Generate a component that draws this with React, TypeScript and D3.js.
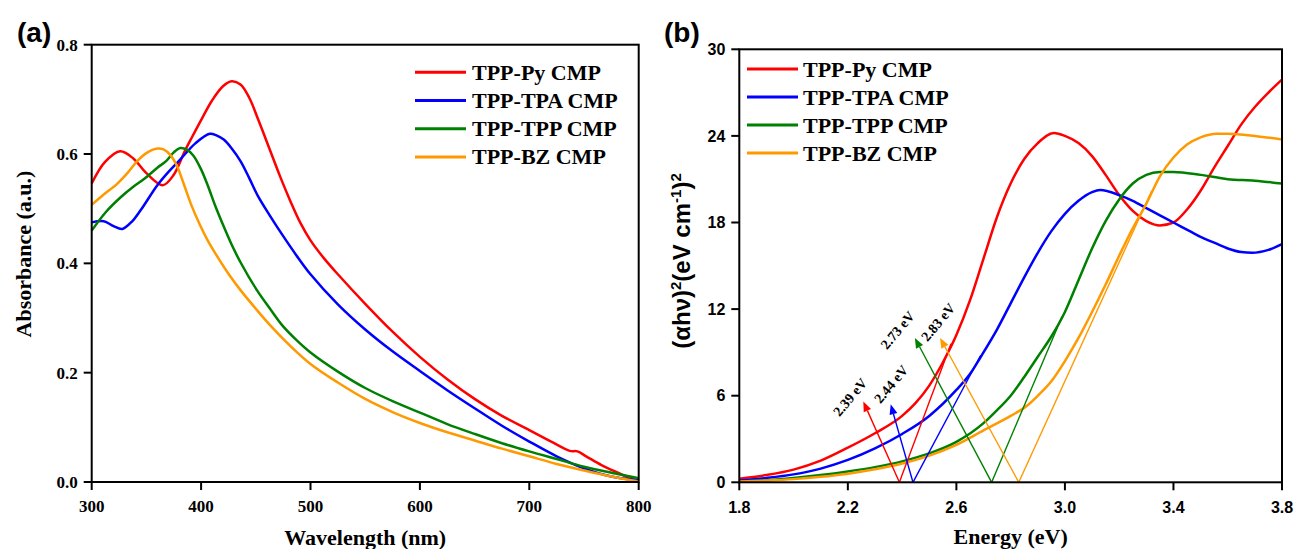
import React from "react";
import * as d3 from "d3";

// ---------- Panel (a): UV-vis absorbance ----------
const wlTicks = [300, 400, 500, 600, 700, 800];
const absTicks = [0, 0.2, 0.4, 0.6, 0.8];

const pyAbs: [number, number][] = [
  [300, 0.546], [312, 0.585], [326, 0.605], [338, 0.592], [350, 0.565], [365, 0.543],
  [375, 0.562], [385, 0.605], [392, 0.632], [400, 0.662], [410, 0.698], [420, 0.724],
  [428, 0.733], [436, 0.727], [444, 0.703], [452, 0.664], [463, 0.607], [472, 0.56],
  [482, 0.512], [491, 0.473], [500, 0.442], [512, 0.41], [525, 0.38], [550, 0.326],
  [575, 0.275], [600, 0.229], [625, 0.188], [650, 0.152], [675, 0.121], [700, 0.095],
  [720, 0.074], [737, 0.057], [744, 0.056], [752, 0.047], [766, 0.031], [782, 0.016],
  [800, 0.0],
];
const tpaAbs: [number, number][] = [
  [300, 0.475], [311, 0.477], [320, 0.468], [328, 0.463], [337, 0.477], [345, 0.498],
  [360, 0.543], [370, 0.567], [380, 0.588], [395, 0.62], [408, 0.637], [414, 0.634],
  [421, 0.626], [428, 0.61], [436, 0.587], [444, 0.556], [452, 0.523], [463, 0.487],
  [474, 0.453], [487, 0.415], [500, 0.38], [525, 0.325], [550, 0.279], [575, 0.239],
  [600, 0.203], [625, 0.168], [650, 0.135], [675, 0.103], [700, 0.074], [725, 0.047],
  [750, 0.025], [775, 0.01], [800, 0.003],
];
const tppAbs: [number, number][] = [
  [300, 0.46], [313, 0.494], [326, 0.52], [338, 0.54], [349, 0.556], [360, 0.575],
  [368, 0.587], [375, 0.603], [381, 0.611], [387, 0.608], [393, 0.597], [400, 0.572],
  [406, 0.543], [413, 0.505], [421, 0.466], [428, 0.434], [436, 0.402], [451, 0.351],
  [463, 0.317], [474, 0.287], [487, 0.26], [500, 0.237], [525, 0.202], [550, 0.172],
  [575, 0.148], [600, 0.127], [625, 0.106], [650, 0.088], [675, 0.071], [700, 0.056],
  [725, 0.042], [750, 0.028], [775, 0.017], [800, 0.007],
];
const bzAbs: [number, number][] = [
  [300, 0.507], [311, 0.526], [323, 0.545], [333, 0.566], [342, 0.588], [351, 0.603],
  [360, 0.61], [366, 0.608], [372, 0.598], [378, 0.578], [384, 0.546], [391, 0.507],
  [399, 0.47], [406, 0.442], [414, 0.415], [425, 0.381], [436, 0.351], [450, 0.317],
  [463, 0.287], [481, 0.25], [500, 0.216], [525, 0.182], [550, 0.152], [575, 0.128],
  [600, 0.108], [625, 0.091], [650, 0.076], [675, 0.061], [700, 0.047], [725, 0.033],
  [750, 0.021], [775, 0.01], [800, 0.001],
];

// ---------- Panel (b): Tauc plot ----------
const eTicks = [1.8, 2.2, 2.6, 3.0, 3.4, 3.8];
const taucTicks = [0, 6, 12, 18, 24, 30];

const pyTauc: [number, number][] = [
  [1.8, 0.25], [1.9, 0.5], [2.0, 0.88], [2.1, 1.5], [2.2, 2.4], [2.3, 3.4], [2.4, 4.6],
  [2.45, 5.5], [2.5, 6.7], [2.55, 8.3], [2.6, 10.2], [2.65, 12.6], [2.7, 15.5],
  [2.75, 18.4], [2.8, 20.7], [2.85, 22.4], [2.9, 23.5], [2.96, 24.2], [3.0, 24.0],
  [3.05, 23.5], [3.1, 22.6], [3.15, 21.3], [3.2, 19.9], [3.25, 18.8], [3.3, 18.1],
  [3.35, 17.8], [3.4, 18.0], [3.45, 18.9], [3.5, 20.2], [3.55, 21.8], [3.6, 23.3],
  [3.65, 24.8], [3.7, 26.0], [3.75, 27.0], [3.8, 27.9],
];
const tpaTauc: [number, number][] = [
  [1.8, 0.12], [1.9, 0.3], [2.0, 0.55], [2.1, 0.95], [2.2, 1.55], [2.3, 2.35], [2.4, 3.35],
  [2.5, 4.6], [2.6, 6.4], [2.65, 7.5], [2.69, 8.7], [2.75, 10.6], [2.8, 12.4],
  [2.85, 14.2], [2.9, 15.9], [2.95, 17.4], [3.0, 18.6], [3.05, 19.5], [3.1, 20.1],
  [3.13, 20.25], [3.2, 19.9], [3.25, 19.5], [3.3, 19.0], [3.35, 18.5], [3.4, 18.0],
  [3.46, 17.4], [3.5, 17.0], [3.55, 16.6], [3.6, 16.2], [3.65, 15.95], [3.69, 15.9],
  [3.75, 16.1], [3.8, 16.5],
];
const tppTauc: [number, number][] = [
  [1.8, 0.05], [1.9, 0.15], [2.0, 0.3], [2.1, 0.5], [2.2, 0.75], [2.3, 1.05], [2.4, 1.45],
  [2.5, 2.0], [2.6, 2.8], [2.7, 4.1], [2.75, 5.0], [2.8, 6.0], [2.85, 7.3], [2.9, 8.7],
  [2.95, 10.1], [3.0, 11.8], [3.05, 14.0], [3.1, 16.2], [3.15, 18.1], [3.2, 19.6],
  [3.25, 20.7], [3.3, 21.3], [3.35, 21.5], [3.4, 21.5], [3.5, 21.3], [3.6, 21.0],
  [3.7, 20.9], [3.8, 20.7],
];
const bzTauc: [number, number][] = [
  [1.8, 0.05], [1.9, 0.12], [2.0, 0.22], [2.1, 0.38], [2.2, 0.6], [2.3, 0.9], [2.4, 1.3],
  [2.5, 1.85], [2.6, 2.6], [2.7, 3.6], [2.8, 4.6], [2.86, 5.3], [2.9, 6.0], [2.95, 7.0],
  [3.0, 8.4], [3.05, 10.0], [3.1, 11.8], [3.15, 13.7], [3.2, 15.7], [3.25, 17.6],
  [3.3, 19.3], [3.35, 21.2], [3.4, 22.5], [3.45, 23.4], [3.5, 23.9], [3.56, 24.15],
  [3.6, 24.15], [3.7, 24.0], [3.8, 23.75],
];

// band-gap constructions: intercept, arrow tip, tangent end, label anchor
const gapLabels = ["2.39 eV", "2.44 eV", "2.73 eV", "2.83 eV"];
const gapValues = [2.39, 2.44, 2.73, 2.83];
const arrowTips: [number, number][] = [[2.257, 5.6], [2.358, 5.4], [2.447, 10.0], [2.54, 10.0]];
const tangentEnds: [number, number][] = [[2.58, 9.6], [2.69, 8.8], [2.99, 11.5], [3.32, 20.2]];
const labelAnchors: [number, number][] = [[2.208, 5.9], [2.359, 6.8], [2.383, 10.55], [2.532, 11.1]];

const seriesNames = ["TPP-Py CMP", "TPP-TPA CMP", "TPP-TPP CMP", "TPP-BZ CMP"];
const seriesColors = ["#FF0000", "#0000FF", "#008000", "#FF9900"];

const SERIF = "'Liberation Serif', 'Times New Roman', serif";
const SANS = "'Liberation Sans', Arial, sans-serif";

const A = { l: 91.7, r: 638.7, t: 44.7, b: 482 };
const B = { l: 739.3, r: 1282, t: 49.3, b: 482.3 };

export default function App() {
  const xA = d3.scaleLinear().domain([300, 800]).range([A.l, A.r]);
  const yA = d3.scaleLinear().domain([0, 0.8]).range([A.b, A.t]);
  const xB = d3.scaleLinear().domain([1.8, 3.8]).range([B.l, B.r]);
  const yB = d3.scaleLinear().domain([0, 30]).range([B.b, B.t]);

  const lineA = d3
    .line<[number, number]>()
    .x((d) => xA(d[0]))
    .y((d) => yA(d[1]))
    .curve(d3.curveCatmullRom.alpha(0.5));
  const lineB = d3
    .line<[number, number]>()
    .x((d) => xB(d[0]))
    .y((d) => yB(d[1]))
    .curve(d3.curveMonotoneX);

  const absSeries = [pyAbs, tpaAbs, tppAbs, bzAbs];
  const taucSeries = [pyTauc, tpaTauc, tppTauc, bzTauc];

  const TICK = 8;

  const arrowParts = gapValues.map((g, i) => {
    const x0 = xB(g);
    const y0 = yB(0);
    const x1 = xB(arrowTips[i][0]);
    const y1 = yB(arrowTips[i][1]);
    const dx = x1 - x0;
    const dy = y1 - y0;
    const len = Math.hypot(dx, dy);
    const ux = dx / len;
    const uy = dy / len;
    const hl = 10;
    const hw = 4;
    const bx = x1 - ux * hl;
    const by = y1 - uy * hl;
    const head = `M${x1},${y1}L${bx - uy * hw},${by + ux * hw}L${bx + uy * hw},${by - ux * hw}Z`;
    return { x0, y0, bx, by, head, tx: xB(tangentEnds[i][0]), ty: yB(tangentEnds[i][1]) };
  });

  return (
    <svg
      width={1296}
      height={549}
      style={{ position: "absolute", left: 0, top: 0, background: "#fff" }}
    >
      <rect x={0} y={0} width={1296} height={549} fill="#fff" />

      {/* ---------------- Panel (a) ---------------- */}
      <text x={17} y={41.5} fontFamily={SANS} fontWeight="bold" fontSize={28}>
        (a)
      </text>
      {absSeries.map((s, i) => (
        <path key={i} d={lineA(s) || ""} fill="none" stroke={seriesColors[i]} strokeWidth={2.5} />
      ))}
      <rect x={A.l} y={A.t} width={A.r - A.l} height={A.b - A.t} fill="none" stroke="#000" strokeWidth={2} />
      {wlTicks.map((t) => (
        <g key={t}>
          <line x1={xA(t)} x2={xA(t)} y1={A.b} y2={A.b + TICK} stroke="#000" strokeWidth={2} />
          <text x={xA(t)} y={512} textAnchor="middle" fontFamily={SERIF} fontWeight="bold" fontSize={17}>
            {t}
          </text>
        </g>
      ))}
      {absTicks.map((t) => (
        <g key={t}>
          <line x1={A.l - TICK} x2={A.l} y1={yA(t)} y2={yA(t)} stroke="#000" strokeWidth={2} />
          <text x={A.l - 14} y={yA(t)} dy="0.35em" textAnchor="end" fontFamily={SERIF} fontWeight="bold" fontSize={17}>
            {t.toFixed(1)}
          </text>
        </g>
      ))}
      <text x={(A.l + A.r) / 2} y={545} textAnchor="middle" fontFamily={SERIF} fontWeight="bold" fontSize={22}>
        Wavelength (nm)
      </text>
      <text transform={`translate(31,254) rotate(-90)`} textAnchor="middle" fontFamily={SERIF} fontWeight="bold" fontSize={22}>
        Absorbance (a.u.)
      </text>
      {seriesNames.map((n, i) => {
        const y = 72.3 + i * 28.2;
        return (
          <g key={n}>
            <line x1={415} x2={466} y1={y} y2={y} stroke={seriesColors[i]} strokeWidth={3} />
            <text x={472} y={y + 7.5} fontFamily={SERIF} fontWeight="bold" fontSize={22}>
              {n}
            </text>
          </g>
        );
      })}

      {/* ---------------- Panel (b) ---------------- */}
      <text x={664} y={42} fontFamily={SANS} fontWeight="bold" fontSize={28}>
        (b)
      </text>
      {taucSeries.map((s, i) => (
        <path key={i} d={lineB(s) || ""} fill="none" stroke={seriesColors[i]} strokeWidth={2.5} />
      ))}
      {arrowParts.map((p, i) => (
        <g key={i} stroke={seriesColors[i]}>
          <line x1={p.x0} y1={p.y0} x2={p.tx} y2={p.ty} strokeWidth={1.4} />
          <line x1={p.x0} y1={p.y0} x2={p.bx} y2={p.by} strokeWidth={1.4} />
          <path d={p.head} fill={seriesColors[i]} stroke="none" />
        </g>
      ))}
      {gapLabels.map((l, i) => (
        <text
          key={l}
          transform={`translate(${xB(labelAnchors[i][0])},${yB(labelAnchors[i][1])}) rotate(-50)`}
          textAnchor="middle"
          dy="0.35em"
          fontFamily={SERIF}
          fontWeight="bold"
          fontSize={14}
        >
          {l}
        </text>
      ))}
      <rect x={B.l} y={B.t} width={B.r - B.l} height={B.b - B.t} fill="none" stroke="#000" strokeWidth={2} />
      {eTicks.map((t) => (
        <g key={t}>
          <line x1={xB(t)} x2={xB(t)} y1={B.b} y2={B.b + TICK} stroke="#000" strokeWidth={2} />
          <text x={xB(t)} y={513} textAnchor="middle" fontFamily={SANS} fontWeight="bold" fontSize={16}>
            {t.toFixed(1)}
          </text>
        </g>
      ))}
      {taucTicks.map((t) => (
        <g key={t}>
          <line x1={B.l - TICK} x2={B.l} y1={yB(t)} y2={yB(t)} stroke="#000" strokeWidth={2} />
          <text x={B.l - 14} y={yB(t)} dy="0.35em" textAnchor="end" fontFamily={SANS} fontWeight="bold" fontSize={16}>
            {t}
          </text>
        </g>
      ))}
      <text x={(B.l + B.r) / 2} y={544} textAnchor="middle" fontFamily={SERIF} fontWeight="bold" fontSize={22}>
        Energy (eV)
      </text>
      <text transform={`translate(690,261) rotate(-90)`} textAnchor="middle" fontFamily={SANS} fontWeight="bold" fontSize={24}>
        (αhν)
        <tspan dy={-9} fontSize={15}>2</tspan>
        <tspan dy={9}>(eV cm</tspan>
        <tspan dy={-9} fontSize={15}>-1</tspan>
        <tspan dy={9}>)</tspan>
        <tspan dy={-9} fontSize={15}>2</tspan>
      </text>
      {seriesNames.map((n, i) => {
        const y = 69 + i * 28;
        return (
          <g key={n}>
            <line x1={747} x2={798} y1={y} y2={y} stroke={seriesColors[i]} strokeWidth={3} />
            <text x={803} y={y + 7.5} fontFamily={SERIF} fontWeight="bold" fontSize={22}>
              {n}
            </text>
          </g>
        );
      })}
    </svg>
  );
}
